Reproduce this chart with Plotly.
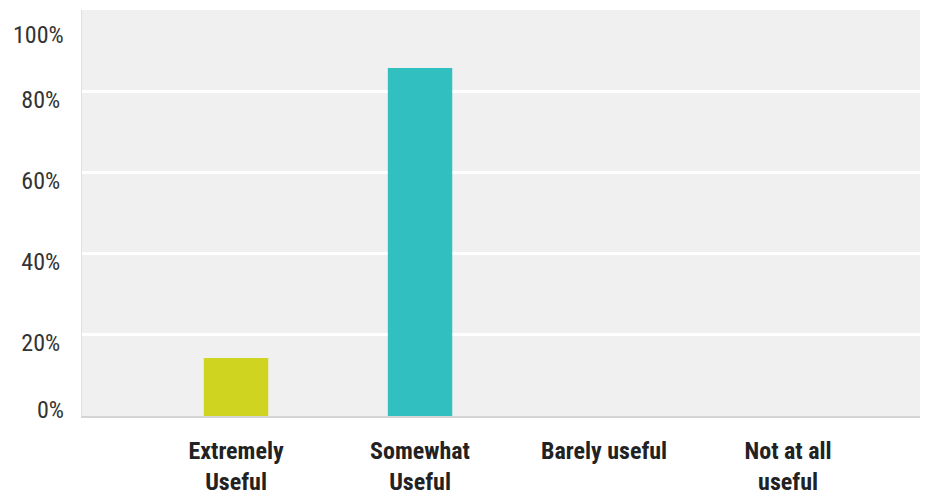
import plotly.graph_objects as go

categories = ["Extremely<br>Useful", "Somewhat<br>Useful", "Barely useful", "Not at all<br>useful"]
values = [14.29, 85.71, 0, 0]
colors = ["#cfd420", "#31bfc0", "#cfd420", "#31bfc0"]
ytick_vals = [20, 40, 60, 80, 100]
ytick_text = ["20%", "40%", "60%", "80%", ""]
yend_vals = [100, 0]
yend_text = ["100%", "0%"]
yend_shift = [-25, 6]

font_family = "Liberation Sans Narrow, Roboto Condensed, Arial Narrow, Liberation Sans, sans-serif"
label_font = dict(size=24, family=font_family, color="#333333")

fig = go.Figure(go.Bar(
    x=list(range(len(categories))),
    y=values,
    marker=dict(color=colors, line=dict(width=0)),
    width=0.35,
))

for v, t, s in zip(yend_vals, yend_text, yend_shift):
    fig.add_annotation(x=0, xref="paper", y=v, yref="y", text=t, showarrow=False,
                       xanchor="right", yanchor="middle", xshift=-16, yshift=s,
                       font=label_font)

fig.update_layout(
    width=912, height=493,
    margin=dict(l=74, r=0, t=2, b=85),
    paper_bgcolor="white",
    plot_bgcolor="#f0f0f0",
    showlegend=False,
    font=dict(family=font_family, color="#222222"),
    xaxis=dict(
        tickmode="array",
        tickvals=list(range(len(categories))),
        ticktext=categories,
        range=[-0.837, 3.717],
        tickfont=dict(size=24, family=font_family, color="#222222", weight="bold"),
        showgrid=False, zeroline=False,
        showline=True, linecolor="#d4d4d4", linewidth=2,
        ticks="", ticklabelstandoff=12, automargin=False,
    ),
    yaxis=dict(
        range=[0, 100],
        tickmode="array",
        tickvals=ytick_vals,
        ticktext=ytick_text,
        tickfont=label_font,
        showgrid=True, gridcolor="white", gridwidth=3,
        zeroline=False,
        showline=True, linecolor="#e0e0e0", linewidth=1,
        ticks="", ticklabelstandoff=16, ticklabelshift=8,
        ticklabeloverflow="allow", automargin=False,
    ),
)

fig.write_html("out.html")
